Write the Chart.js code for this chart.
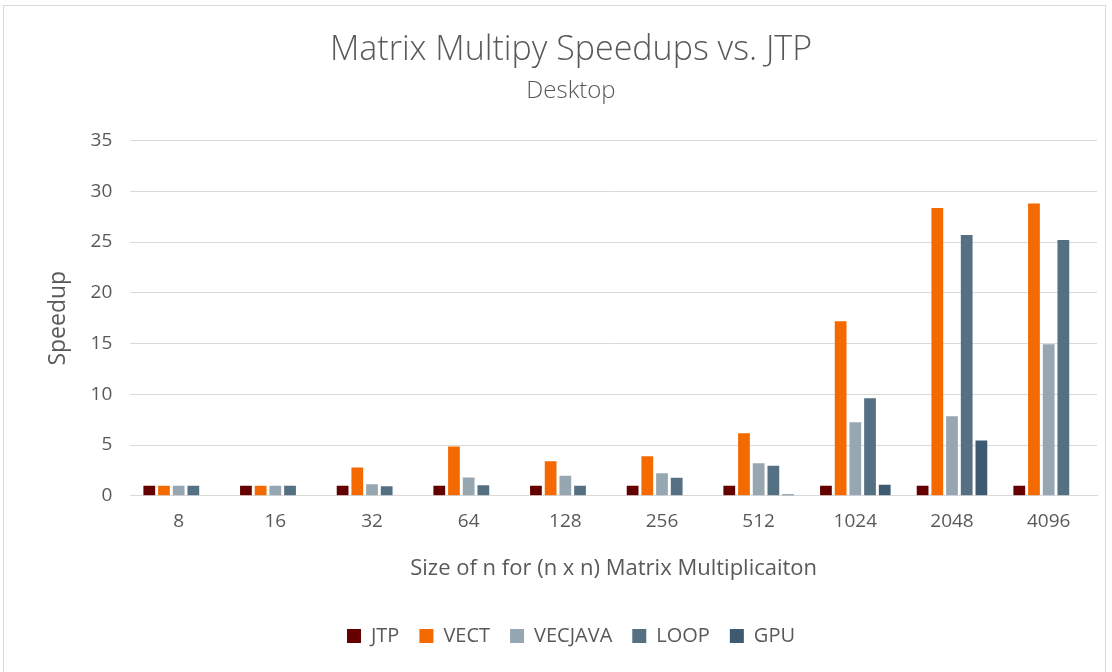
<!DOCTYPE html>
<html>
<head>
<meta charset="utf-8">
<script src="https://cdn.jsdelivr.net/npm/chart.js@4"></script>
<style>
  body { margin: 0; background: #fff; }
  #frame { position: absolute; left: 3px; top: 5px; width: 1101px; height: 700px; border: 1px solid #d9d9d9; }
  #wrap { position: absolute; left: 0; top: 0; width: 1112px; height: 672px; }
</style>
</head>
<body>
<div id="frame"></div>
<div id="wrap"><canvas id="myChart"></canvas></div>
<script>
const sizes = ["8", "16", "32", "64", "128", "256", "512", "1024", "2048", "4096"];
const jtp = [1, 1, 1, 1, 1, 1, 1, 1, 1, 1];
const vect = [1, 1, 2.8, 4.86, 3.4, 3.9, 6.17, 17.2, 28.35, 28.8];
const vecjava = [1, 1, 1.15, 1.8, 1.97, 2.23, 3.2, 7.25, 7.85, 14.93];
const loop = [1, 1, 0.95, 1.05, 1.0, 1.77, 2.95, 9.6, 25.7, 25.2];
const gpu = [null, null, null, null, null, null, 0.13, 1.08, 5.45, null];
const yTicks = [0, 5, 10, 15, 20, 25, 30, 35];

const textColor = "#595959";
const fontFamily = "'Open Sans', sans-serif";

var data = {
  labels: sizes,
  datasets: [
    { label: "JTP", data: jtp, backgroundColor: "#640000" },
    { label: "VECT", data: vect, backgroundColor: "#F46A00" },
    { label: "VECJAVA", data: vecjava, backgroundColor: "#97A7B1" },
    { label: "LOOP", data: loop, backgroundColor: "#567083" },
    { label: "GPU", data: gpu, backgroundColor: "#3D5A70" },
  ],
};

var options = {
  responsive: true,
  maintainAspectRatio: false,
  animation: false,
  layout: { padding: { left: 45, right: 15, top: 0, bottom: 16 } },
  datasets: {
    bar: { categoryPercentage: 0.76, barPercentage: 0.8 },
  },
  scales: {
    x: {
      grid: { display: false },
      border: { color: "#d9d9d9" },
      ticks: { color: textColor, font: { family: fontFamily, size: 19 }, padding: 6 },
      title: {
        display: true,
        text: "Size of n for (n x n) Matrix Multiplicaiton",
        color: textColor,
        font: { family: fontFamily, size: 22 },
        padding: { top: 17, bottom: 24 },
      },
    },
    y: {
      min: 0,
      max: 35,
      afterBuildTicks: (axis) => {
        axis.ticks = yTicks.map((v) => ({ value: v }));
      },
      grid: { color: "#d9d9d9", drawTicks: false },
      border: { display: false },
      ticks: { color: textColor, font: { family: fontFamily, size: 19 }, padding: 18 },
      title: {
        display: true,
        text: "Speedup",
        color: textColor,
        font: { family: fontFamily, size: 23 },
        padding: { top: 0, bottom: 0 },
      },
    },
  },
  plugins: {
    title: {
      display: true,
      text: "Matrix Multipy Speedups vs. JTP",
      color: textColor,
      font: { family: fontFamily, size: 34, weight: "300" },
      padding: { top: 30, bottom: 6 },
    },
    subtitle: {
      display: true,
      text: "Desktop",
      color: textColor,
      font: { family: fontFamily, size: 24, weight: "300" },
      padding: { bottom: 35 },
    },
    legend: {
      position: "bottom",
      labels: {
        color: textColor,
        font: { family: fontFamily, size: 20 },
        boxWidth: 14,
        boxHeight: 14,
        padding: 20,
      },
    },
    tooltip: { enabled: false },
  },
};

const ctx = document.getElementById("myChart").getContext("2d");
const myChart = new Chart(ctx, {
  type: "bar",
  data: data,
  options: options,
});
</script>
</body>
</html>
